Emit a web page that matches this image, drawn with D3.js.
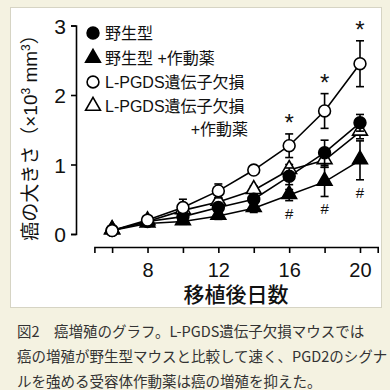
<!DOCTYPE html>
<html><head><meta charset="utf-8">
<script src="https://cdn.jsdelivr.net/npm/d3@7"></script>
<style>
html,body{margin:0;padding:0;background:#f4f2e1;}
svg{display:block;}
</style></head>
<body>
<script>
const days = [6, 8, 10, 12, 14, 16, 18, 20];
const xTickLabels = [8, 12, 16, 20];
const yTicks = [0, 1, 2, 3];
const seriesNames = ["野生型", "野生型 +作動薬", "L-PGDS遺伝子欠損", "L-PGDS遺伝子欠損"];
const wt      = [0.05, 0.18, 0.25, 0.38, 0.50, 0.83, 1.17, 1.60];
const wtErr   = [0.02, 0.03, 0.05, 0.06, 0.07, 0.12, 0.18, 0.12];
const wtAg    = [0.05, 0.15, 0.18, 0.26, 0.37, 0.56, 0.75, 1.06];
const wtAgErr = [0.02, 0.03, 0.04, 0.05, 0.06, 0.08, 0.21, 0.28];
const ko      = [0.05, 0.20, 0.38, 0.62, 0.92, 1.27, 1.77, 2.45];
const koErr   = [0.02, 0.04, 0.12, 0.10, 0.05, 0.17, 0.25, 0.33];
const koAg    = [0.05, 0.18, 0.34, 0.46, 0.63, 0.92, 1.06, 1.47];
const koAgErr = [0.02, 0.03, 0.05, 0.06, 0.06, 0.08, 0.10, 0.10];
const starDays = [16, 18, 20];
const hashDays = [16, 18, 20];
const captionLines = [
  "図2　癌増殖のグラフ。L-PGDS遺伝子欠損マウスでは",
  "癌の増殖が野生型マウスと比較して速く、PGD2のシグナ",
  "ルを強める受容体作動薬は癌の増殖を抑えた。"
];

const W = 390, H = 390;
const FONT = "'Liberation Sans', Arial, 'Noto Sans CJK JP', sans-serif";
const svg = d3.select("body").append("svg").attr("width", W).attr("height", H);

svg.append("rect").attr("x", 10.5).attr("y", 7.5).attr("width", 371).attr("height", 300)
  .attr("fill", "#fff").attr("stroke", "#d6d4c4").attr("stroke-width", 1);

const x = d3.scaleLinear().domain([5, 21]).range([94.4, 377.7]);
const y = d3.scaleLinear().domain([0, 3]).range([234, 25.5]);

// axes
const xAxis = d3.axisBottom(x).tickValues(days).tickSizeOuter(0).tickSize(6)
  .tickFormat(d => xTickLabels.includes(d) ? d : "");
const gx = svg.append("g").attr("transform", "translate(0,247)").call(xAxis);
gx.selectAll("path,line").attr("stroke", "#000").attr("stroke-width", 1.6);
gx.selectAll("text").attr("font-family", FONT).attr("font-size", 20).attr("fill", "#111").attr("dy", "1.05em");

const yAxis = d3.axisLeft(y).tickValues(yTicks).tickSizeOuter(0).tickSize(5).tickFormat(d3.format("d"));
const gy = svg.append("g").attr("transform", "translate(76,0)").call(yAxis);
gy.selectAll("path,line").attr("stroke", "#000").attr("stroke-width", 1.6);
gy.selectAll("text").attr("font-family", FONT).attr("font-size", 21).attr("fill", "#111").attr("x", -10).attr("dy", "0.36em");

svg.append("text").attr("x", 236).attr("y", 302).attr("text-anchor", "middle")
  .attr("font-family", FONT).attr("font-size", 21).attr("font-weight", 500).attr("fill", "#111")
  .text("移植後日数");

const yl = svg.append("text").attr("transform", "translate(37,133) rotate(-90)")
  .attr("text-anchor", "middle").attr("font-family", FONT).attr("font-size", 19).attr("fill", "#111");
yl.append("tspan").text("癌の大きさ（×10");
yl.append("tspan").attr("font-size", 12).attr("dy", -7).text("3");
yl.append("tspan").attr("dy", 7).text(" mm");
yl.append("tspan").attr("font-size", 12).attr("dy", -7).text("3");
yl.append("tspan").attr("dy", 7).text("）");

// data series
const series = [
  {vals: koAg, err: koAgErr, shape: "triangle", fill: "#fff"},
  {vals: wtAg, err: wtAgErr, shape: "triangle", fill: "#000"},
  {vals: wt,   err: wtErr,   shape: "circle",   fill: "#000"},
  {vals: ko,   err: koErr,   shape: "circle",   fill: "#fff"}
];
const line = d3.line().x((d, i) => x(days[i])).y(d => y(d));
series.forEach(s => {
  svg.append("path").attr("d", line(s.vals)).attr("fill", "none").attr("stroke", "#000").attr("stroke-width", 1.6);
});
const triSym = d3.symbol().type(d3.symbolTriangle).size(95);
const cirSym = d3.symbol().type(d3.symbolCircle).size(110);
function drawMarker(g, s, cx, cy) {
  g.append("path").attr("d", (s.shape === "triangle" ? triSym : cirSym)())
    .attr("transform", `translate(${cx},${cy + (s.shape === "triangle" ? -1 : 0)})`)
    .attr("fill", s.fill).attr("stroke", "#000").attr("stroke-width", 1.6);
}
series.forEach(s => {
  const g = svg.append("g");
  s.vals.forEach((v, i) => {
    const cx = x(days[i]);
    const y1 = y(v + s.err[i]), y2 = y(v - s.err[i]);
    g.append("line").attr("x1", cx).attr("x2", cx).attr("y1", y1).attr("y2", y2).attr("stroke", "#000").attr("stroke-width", 1.6);
    [y1, y2].forEach(yy => g.append("line").attr("x1", cx - 4).attr("x2", cx + 4).attr("y1", yy).attr("y2", yy).attr("stroke", "#000").attr("stroke-width", 1.6));
  });
  s.vals.forEach((v, i) => drawMarker(g, s, x(days[i]), y(v)));
});

// significance marks
starDays.forEach(d => {
  const i = days.indexOf(d);
  svg.append("text").attr("x", x(d)).attr("y", y(ko[i] + koErr[i]) - 2).attr("text-anchor", "middle")
    .attr("font-family", FONT).attr("font-size", 24).attr("fill", "#111").attr("dy", "0.72em").attr("transform", "translate(0,-18)")
    .text("*");
});
hashDays.forEach(d => {
  const i = days.indexOf(d);
  svg.append("text").attr("x", x(d)).attr("y", y(wtAg[i] - wtAgErr[i]) + 18).attr("text-anchor", "middle")
    .attr("font-family", FONT).attr("font-size", 15).attr("fill", "#111")
    .text("#");
});

// legend
const legend = [
  {s: series[2], label: seriesNames[0], y: 33},
  {s: series[1], label: seriesNames[1], y: 58},
  {s: series[3], label: seriesNames[2], y: 82},
  {s: series[0], label: seriesNames[3], y: 106}
];
legend.forEach(l => {
  const g = svg.append("g");
  drawMarker(g, l.s, 93, l.y + (l.s.shape === "triangle" ? 1 : 0));
  g.append("text").attr("x", 105).attr("y", l.y).attr("dy", "0.36em")
    .attr("font-family", FONT).attr("font-size", 16).attr("fill", "#111").text(l.label);
});
svg.append("text").attr("x", 248).attr("y", 129).attr("dy", "0.36em").attr("text-anchor", "end")
  .attr("font-family", FONT).attr("font-size", 16).attr("fill", "#111").text("+作動薬");

// caption
captionLines.forEach((t, i) => {
  svg.append("text").attr("x", 17).attr("y", 337 + i * 25)
    .attr("font-family", "'Noto Sans CJK JP', sans-serif").attr("font-size", 14.5).attr("fill", "#333").text(t);
});
</script>
</body></html>
